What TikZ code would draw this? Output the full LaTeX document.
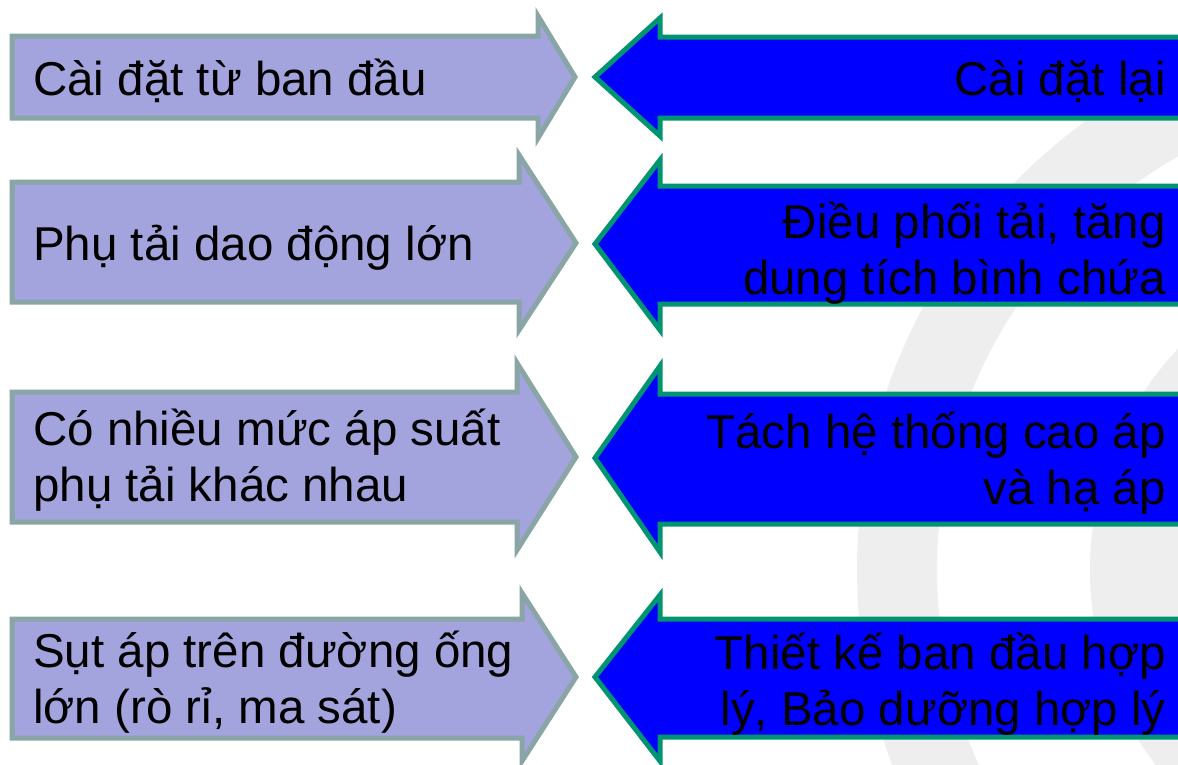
\documentclass[tikz,border=0pt]{standalone}
\usepackage{fontspec}
\setmainfont{Liberation Sans}
\definecolor{lavfill}{HTML}{A3A3DD}
\definecolor{lavline}{HTML}{8AA5A5}
\definecolor{bluefill}{HTML}{0000FF}
\definecolor{blueline}{HTML}{009470}
\definecolor{wmgray}{HTML}{EEEEEE}
\tikzset{
  lefta/.style={fill=lavfill, draw=lavline, line width=5pt, line join=miter},
  righta/.style={fill=bluefill, draw=blueline, line width=5pt, line join=miter},
  ltext/.style={anchor=base west, align=left, inner sep=0pt, text=black,
    font=\fontsize{47.5}{56}\selectfont},
  rtext/.style={anchor=base east, align=right, inner sep=0pt, text=black,
    font=\fontsize{47.5}{56}\selectfont},
  wm/.style={fill=wmgray, even odd rule}
}
\begin{document}
\begin{tikzpicture}[x=1pt,y=-1pt]
\useasboundingbox (0,0) rectangle (1178,764);
\fill[white] (0,0) rectangle (1178,764);
\clip (0,0) rectangle (1178,764);
% watermark rings
\fill[wm] (1412,570) circle (555pt) (1412,570) circle (475pt);
\fill[wm] (1412,570) circle (322pt) (1412,570) circle (228pt);
% row 1
\path[lefta] (12,36) -- (538,36) -- (538,16) -- (575,77) -- (538,138) -- (538,118) -- (12,118) -- cycle;
\path[righta] (1195,37) -- (660,37) -- (660,18) -- (595,77) -- (660,136) -- (660,118) -- (1195,118) -- cycle;
% row 2
\path[lefta] (12,182) -- (519,182) -- (519,155) -- (576,243) -- (519,330) -- (519,302) -- (12,302) -- cycle;
\path[righta] (1195,186) -- (660,186) -- (660,160) -- (595,244) -- (660,330) -- (660,304) -- (1195,304) -- cycle;
% row 3
\path[lefta] (12,392) -- (517,392) -- (517,363) -- (576,457) -- (517,550) -- (517,522) -- (12,522) -- cycle;
\path[righta] (1195,394) -- (660,394) -- (660,366) -- (595,458) -- (660,552) -- (660,524) -- (1195,524) -- cycle;
% row 4
\path[lefta] (12,619) -- (522,619) -- (522,593) -- (576,677) -- (522,761) -- (522,738) -- (12,738) -- cycle;
\path[righta] (1195,619) -- (660,619) -- (660,595) -- (595,677) -- (660,761) -- (660,737) -- (1195,737) -- cycle;
% texts (base anchor = baseline of the last line)
\node[ltext] (l1) at (33,95) {Cài đặt từ ban đầu};
\node[rtext] (r1) at (1166,95) {Cài đặt lại};
\node[ltext] (l2) at (33,260) {Phụ tải dao động lớn};
\node[rtext] (r2) at (1166,294) {Điều phối tải, tăng\\dung tích bình chứa};
\node[ltext] (l3) at (33,501) {Có nhiều mức áp suất\\phụ tải khác nhau};
\node[rtext] (r3) at (1166,504) {Tách hệ thống cao áp\\và hạ áp};
\node[ltext] (l4) at (33,723) {Sụt áp trên đường ống\\lớn (rò rỉ, ma sát)};
\node[rtext] (r4) at (1166,725) {Thiết kế ban đầu hợp\\lý, Bảo dưỡng hợp lý};
\end{tikzpicture}
\end{document}
